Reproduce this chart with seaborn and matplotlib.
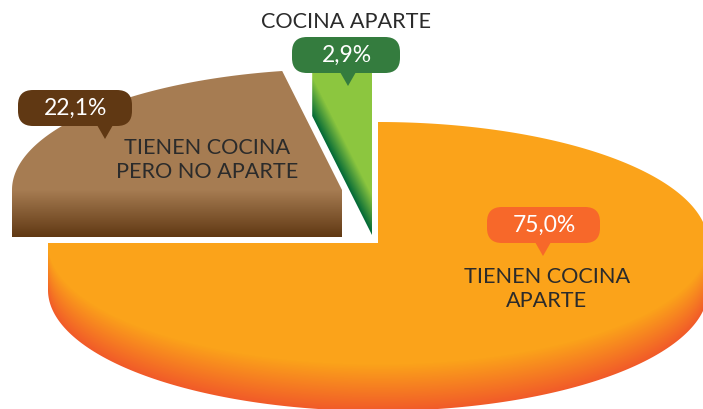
import numpy as np
import seaborn as sns
import matplotlib.pyplot as plt
from matplotlib.patches import Polygon, FancyBboxPatch

# data
shares = [75.0, 22.1, 2.9]
pct_labels = ["75,0%", "22,1%", "2,9%"]
slice_labels = ["TIENEN COCINA\nAPARTE", "TIENEN COCINA\nPERO NO APARTE", "COCINA APARTE"]

# layout, in pixels of the 703x410 picture
rx, ry, depth = 330, 121, 47
centers = [(378, 243), (342, 190), (372, 188)]
grad_colors = [("#FBA31A", "#F15A29"), ("#A67C52", "#603813"), ("#006837", "#8CC63F")]
bubble_colors = ["#F7682A", "#603813", "#347C3E"]
bubble_boxes = [(487, 207, 113, 36), (18, 90, 114, 36), (292, 37, 108, 36)]
bubble_tips = [(543, 256), (105, 139), (348, 86)]
label_pos = [(547, 288), (207, 159), (346, 21)]

sns.set_theme(style="white")
plt.rcParams["font.family"] = ["Lato", "DejaVu Sans"]

fig = plt.figure(figsize=(7.03, 4.10), dpi=100)
ax = fig.add_axes([0, 0, 1, 1])

xx, yy = np.meshgrid(np.arange(0, 712) + 0.5, np.arange(-2, 412) + 0.5)

# slice angles, clockwise from 12 o'clock: the big one first, then the others
edges = np.cumsum([0] + shares) / 100 * 2 * np.pi


def arc(c, a0, a1, drop=0, n=200):
    a = np.linspace(a0, a1, n)
    return np.column_stack([c[0] + rx * np.sin(a), c[1] - ry * np.cos(a) + drop])


def draw_grad(t, outline, colors):
    cmap = sns.blend_palette(colors, as_cmap=True)
    im = ax.imshow(np.clip(t, 0, 1), cmap=cmap, vmin=0, vmax=1, aspect="auto",
                   extent=(0, 712, 412, -2), interpolation="bilinear", zorder=1)
    im.set_clip_path(Polygon(outline, closed=True, transform=ax.transData))


# orange slice
c = centers[0]
outline = np.vstack([[c], arc(c, edges[0], np.pi / 2), arc(c, np.pi / 2, edges[1], depth),
                     arc(c, edges[1], edges[1], n=1)])
low = c[1] + ry * np.sqrt(np.clip(1 - ((xx - c[0]) / rx) ** 2, 0, 1))
draw_grad((yy - low) / depth, outline, grad_colors[0])

# brown slice
c = centers[1]
start = arc(c, edges[1], edges[1], n=1)[0]
outline = np.vstack([[c], [[c[0], c[1] + depth]], [[start[0], c[1] + depth]], arc(c, edges[1], edges[2])])
draw_grad((yy - c[1]) / depth, outline, grad_colors[1])

# green slice, its side runs along the cut edge
c = centers[2]
top = arc(c, edges[2], edges[3])
outline = np.vstack([[[c[0], c[1] + depth]], [top[0] + [0, depth]], top])
slope = (c[1] - top[0][1]) / (c[0] - top[0][0])
edge_y = c[1] + depth + slope * (xx - c[0])
draw_grad((edge_y - yy) / 40, outline, grad_colors[2])

ax.set_xlim(0, 703)
ax.set_ylim(409, -1)
ax.axis("off")

# bubbles and texts
for box, tip, col, pct in zip(bubble_boxes, bubble_tips, bubble_colors, pct_labels):
    x, y, w, h = box
    r = 15
    ax.add_patch(FancyBboxPatch((x + r, y + r), w - 2 * r, h - 2 * r,
                                boxstyle="round,pad=%d,rounding_size=%d" % (r, r),
                                fc=col, ec="none", zorder=3))
    ax.add_patch(Polygon([(tip[0] - 8, y + h - 1), (tip[0] + 8, y + h - 1), tip],
                         fc=col, ec="none", zorder=3))
    ax.text(x + w / 2 + 1, y + h / 2 - 1, pct, color="white", fontsize=16.5,
            ha="center", va="center", zorder=4)

for pos, lab in zip(label_pos, slice_labels):
    ax.text(pos[0], pos[1], lab, color="#2B2B2B", fontsize=15.6,
            ha="center", va="center", linespacing=1.24, zorder=4)

fig.savefig("out.png", dpi=100)
